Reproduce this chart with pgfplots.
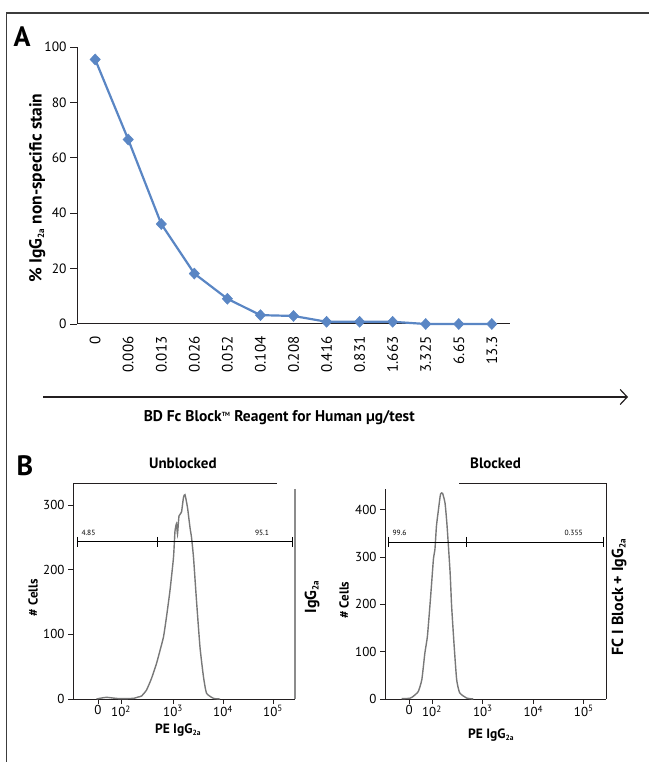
\documentclass[border=0pt]{standalone}
\usepackage{fontspec}
\setmainfont{PT Sans}
\usepackage{pgfplots}
\pgfplotsset{compat=1.18}
\usetikzlibrary{arrows.meta}
\definecolor{lineblue}{RGB}{90,134,196}
\definecolor{histgray}{RGB}{120,120,120}
\definecolor{axgray}{RGB}{35,31,32}
\definecolor{framegray}{RGB}{60,60,60}

\begin{document}
\begin{tikzpicture}[x=1pt,y=1pt]
\path[use as bounding box] (0,0) rectangle (649,762);
\draw[framegray, line width=1.2pt] (6.5,0) -- (6.5,749) -- (649,749);
\node[font=\bfseries\fontsize{28}{28}\selectfont] at (22,725) {A};
\node[font=\bfseries\fontsize{28}{28}\selectfont] at (25,296) {B};

% ---------------- Panel A
\begin{axis}[
  at={(77pt,438pt)}, anchor=south west,
  scale only axis, width=433pt, height=277pt,
  xmin=-0.55, xmax=12.55, ymin=0, ymax=100,
  axis x line*=bottom, axis y line*=left,
  axis line style={-, axgray, line width=1pt},
  clip=false,
  xtick={0,...,12},
  xticklabels={0,0.006,0.013,0.026,0.052,0.104,0.208,0.416,0.831,1.663,3.325,6.65,13.3},
  x tick style={draw=none},
  xticklabel style={rotate=90, anchor=east, font=\fontsize{15}{15}\selectfont, xshift=-2pt},
  ytick={0,20,...,100},
  y tick style={axgray, line width=0.8pt},
  tick align=outside, major tick length=7pt,
  yticklabel style={font=\fontsize{13.5}{13.5}\selectfont},
  /pgf/number format/assume math mode=true,
  ylabel={\% IgG\textsubscript{\fontsize{9}{9}\selectfont 2a} non-specific stain},
  ylabel style={at={(axis description cs:-0.092,0.49)}, anchor=center, rotate=0, font=\bfseries\fontsize{17.5}{17.5}\selectfont},
  xlabel={BD Fc Block\textsuperscript{\fontsize{6}{6}\selectfont TM} Reagent for Human µg/test},
  xlabel style={at={(axis description cs:0.467,-0.339)}, anchor=center, font=\bfseries\fontsize{15.5}{15.5}\selectfont},
]
\addplot[lineblue, line width=2.2pt, mark=diamond*, mark size=5.5pt, mark options={xscale=1.25, fill=lineblue, draw=lineblue, line width=0.5pt}]
coordinates {(0,95.5)(1,66.6)(2,36.1)(3,18.2)(4,9.1)(5,3.2)(6,2.9)(7,0.8)(8,0.8)(9,0.8)(10,0)(11,0)(12,0)};
\end{axis}
\draw[axgray, line width=1.2pt, -{Straight Barb[length=7pt, width=15pt, line width=1.2pt]}] (43,365) -- (628,365);

% ---------------- Panel B left
\begin{axis}[
  at={(73pt,63pt)}, anchor=south west,
  scale only axis, width=222pt, height=216pt,
  xmin=1.0, xmax=5.44, ymin=0, ymax=334,
  axis x line*=bottom, axis y line*=left,
  axis line style={-, axgray, line width=0.9pt},
  clip=false,
  xtick={1.5,1.96,3,4,5},
  xticklabels={0,10\textsuperscript{2},10\textsuperscript{3},10\textsuperscript{4},10\textsuperscript{5}},
  ytick={0,100,200,300},
  tick align=outside, major tick length=5pt,
  tick style={axgray, line width=0.8pt},
  ticklabel style={font=\fontsize{13}{13}\selectfont},
  xticklabel style={yshift=2pt},
  /pgf/number format/assume math mode=true,
  xlabel={PE IgG\textsubscript{\fontsize{7.5}{7.5}\selectfont 2a}},
  xlabel style={at={(axis description cs:0.473,-0.112)}, anchor=north, font=\bfseries\fontsize{13.5}{13.5}\selectfont, inner sep=0pt},
  ylabel={\# Cells},
  ylabel style={at={(axis description cs:-0.18,0.47)}, anchor=center, font=\bfseries\fontsize{13}{13}\selectfont},
  title={Unblocked},
  title style={at={(axis description cs:0.495,1.065)}, anchor=center, font=\bfseries\fontsize{15}{15}\selectfont},
]
\addplot[histgray, line width=1.4pt, smooth, tension=0.3] coordinates {
(1.47,0)(1.57,1.5)(1.67,2.6)(1.80,1.5)(1.94,0.5)(2.21,1)(2.30,3)(2.37,4.6)(2.47,13.8)(2.57,31.8)(2.67,54.9)(2.74,75)(2.81,96)(2.87,127)(2.94,168)(3.01,219)(3.04,260)(3.07,271)(3.09,255)(3.12,283)(3.17,289)(3.21,312)(3.24,316)(3.29,296)(3.34,265)(3.37,250)(3.41,219)(3.47,152)(3.54,80)(3.61,34)(3.67,9)(3.81,1)(3.94,0)};
\addplot[black, line width=0.8pt, mark=|, mark size=5pt, mark options={line width=0.8pt}] coordinates {(1.08,243)(2.68,243)(5.38,243)};
\node[font=\fontsize{7.5}{7.5}\selectfont, anchor=west] at (axis cs:1.1,257) {4.85};
\node[font=\fontsize{7.5}{7.5}\selectfont] at (axis cs:4.78,257) {95.1};
\end{axis}
\draw[axgray, line width=0.9pt] (73,279) -- (277,279);
\draw[histgray!85, line width=1.6pt] (295,273) -- (295,63);
\node[font=\bfseries\fontsize{16}{16}\selectfont, rotate=90] at (312,165) {IgG\textsubscript{\fontsize{9}{9}\selectfont 2a}};

% ---------------- Panel B right
\begin{axis}[
  at={(385pt,63pt)}, anchor=south west,
  scale only axis, width=221pt, height=210pt,
  xmin=1.06, xmax=5.44, ymin=0, ymax=444,
  axis x line*=bottom, axis y line*=left,
  axis line style={-, axgray, line width=0.9pt},
  clip=false,
  xtick={1.54,1.99,3,4,5},
  xticklabels={0,10\textsuperscript{2},10\textsuperscript{3},10\textsuperscript{4},10\textsuperscript{5}},
  ytick={0,100,200,300,400},
  tick align=outside, major tick length=5pt,
  tick style={axgray, line width=0.8pt},
  ticklabel style={font=\fontsize{13}{13}\selectfont},
  xticklabel style={yshift=2pt},
  /pgf/number format/assume math mode=true,
  xlabel={PE IgG\textsubscript{\fontsize{7.5}{7.5}\selectfont 2a}},
  xlabel style={at={(axis description cs:0.48,-0.14)}, anchor=north, font=\bfseries\fontsize{13.5}{13.5}\selectfont, inner sep=0pt},
  ylabel={\# Cells},
  ylabel style={at={(axis description cs:-0.185,0.47)}, anchor=center, font=\bfseries\fontsize{13}{13}\selectfont},
  title={Blocked},
  title style={at={(axis description cs:0.50,1.095)}, anchor=center, font=\bfseries\fontsize{15}{15}\selectfont},
]
\addplot[histgray, line width=1.4pt, smooth, tension=0.3] coordinates {
(1.39,0.7)(1.55,1.5)(1.62,5.6)(1.72,16)(1.79,41)(1.85,97)(1.90,132)(1.95,197)(1.98,239)(2.02,296)(2.05,317)(2.08,366)(2.12,401)(2.16,433)(2.20,435)(2.25,414)(2.29,366)(2.35,268)(2.38,197)(2.43,113)(2.48,41)(2.54,13)(2.68,2)(2.81,0)};
\addplot[black, line width=0.8pt, mark=|, mark size=5pt, mark options={line width=0.8pt}] coordinates {(1.12,332)(2.68,332)(5.38,332)};
\node[font=\fontsize{7.5}{7.5}\selectfont, anchor=west] at (axis cs:1.14,352) {99.6};
\node[font=\fontsize{7.5}{7.5}\selectfont] at (axis cs:4.80,352) {0.355};
\end{axis}
\draw[axgray, line width=0.9pt] (459,279) -- (606,279) -- (606,63);
\node[font=\bfseries\fontsize{16}{16}\selectfont, rotate=90] at (619,165) {FC I Block + IgG\textsubscript{\fontsize{9}{9}\selectfont 2a}};
\end{tikzpicture}
\end{document}
